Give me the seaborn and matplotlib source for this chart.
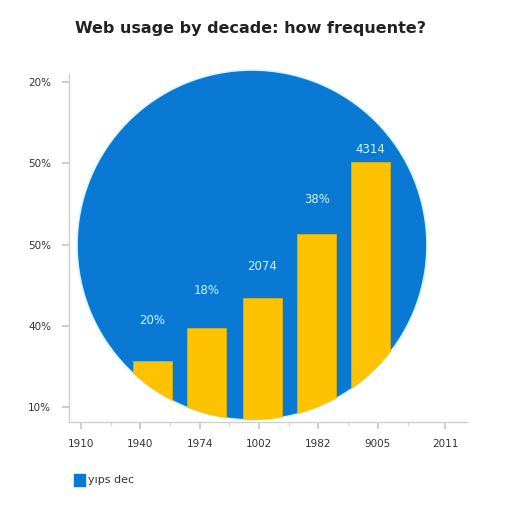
import matplotlib
matplotlib.use("Agg")
import matplotlib.pyplot as plt
from matplotlib.patches import Patch
import seaborn as sns
import pandas as pd
import numpy as np

# ---- data ----
title = "Web usage by decade: how frequente?"
bar_pos = [1.20, 2.12, 3.05, 3.97, 4.87]
bar_values = [15.7, 19.7, 23.4, 31.3, 40.2]
bar_labels = ["20%", "18%", "2074", "38%", "4314"]
label_offsets = [29, 27, 23, 25, 9]
x_tick_pos = [0, 1, 2, 3, 4, 5, 6.13]
x_tick_labels = ["1910", "1940", "1974", "1002", "1982", "9005", "2011"]
y_tick_pos = [10, 20, 30, 40, 50]
y_tick_labels = ["10%", "40%", "50%", "50%", "20%"]
pie_values = [1]
legend_label = "yıps dec"

BLUE = "#0a79d3"
YELLOW = "#fdc200"

sns.set_theme(style="white")
plt.rcParams["font.family"] = ["DejaVu Sans"]

fig = plt.figure(figsize=(5.12, 5.12), dpi=100)

# background circle (single-slice pie)
cx, cy, r = 252 / 512, 1 - 245 / 512, 175 / 512
ax_pie = fig.add_axes([cx - r, cy - r, 2 * r, 2 * r], zorder=0)
wedges, _ = ax_pie.pie(pie_values, colors=[BLUE], radius=1.0,
                       wedgeprops=dict(edgecolor="#d6f6ff", linewidth=1.2))
ax_pie.set_xlim(-1, 1)
ax_pie.set_ylim(-1, 1)
ax_pie.set_aspect("equal")
ax_pie.axis("off")

ax = fig.add_axes([69 / 512, 1 - 422 / 512, (467 - 69) / 512, (422 - 74) / 512], zorder=1)
ax.set_facecolor("none")

df = pd.DataFrame({"x": bar_pos, "y": bar_values})
sns.barplot(data=df, x="x", y="y", native_scale=True, color=YELLOW,
            saturation=1, width=0.73, ax=ax, edgecolor="#eab400", linewidth=0.5)
for bar in ax.patches:
    bar.set_clip_path(wedges[0])

ax.set_xlim(-0.2, 6.5)
ax.set_ylim(8.15, 51)

for xp, v, lab, off in zip(bar_pos, bar_values, bar_labels, label_offsets):
    ax.annotate(lab, (xp, v), xytext=(0, off), textcoords="offset points",
                ha="center", va="center", fontsize=8.5, color="#cbf8ff")

ax.set_xticks(x_tick_pos)
ax.set_xticklabels(x_tick_labels)
ax.set_xticks([0.5, 1.5, 2.5, 3.5, 4.5, 5.5], minor=True)
ax.set_yticks(y_tick_pos)
ax.set_yticklabels(y_tick_labels)
ax.set_xlabel("")
ax.set_ylabel("")
for s in ["top", "right"]:
    ax.spines[s].set_visible(False)
for s in ["left", "bottom"]:
    ax.spines[s].set_color("#d0d0d0")
    ax.spines[s].set_linewidth(1)
ax.tick_params(axis="both", which="major", length=5, color="#c8c8c8",
               labelsize=7.5, labelcolor="#333333", bottom=True, left=True)
ax.tick_params(axis="x", which="minor", length=3, color="#d8d8d8", bottom=True)
ax.tick_params(axis="x", pad=7)
ax.tick_params(axis="y", pad=8)

fig.text(0.49, 0.945, title, ha="center", va="center", fontsize=11.5,
         fontweight="bold", color="#222222")

fig.legend(handles=[Patch(facecolor=BLUE, edgecolor=BLUE)], labels=[legend_label],
           loc="center left", bbox_to_anchor=(0.125, 0.063), frameon=False,
           fontsize=8, handlelength=1.0, handleheight=1.3, handletextpad=0.3,
           labelcolor="#333333")

fig.savefig("out.png", dpi=100)
